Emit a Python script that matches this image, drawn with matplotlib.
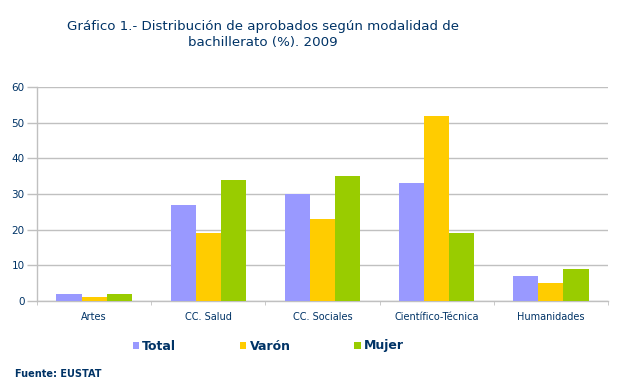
import matplotlib
matplotlib.use("Agg")
import matplotlib.pyplot as plt
import numpy as np
from matplotlib.patches import Patch

categories = ["Artes", "CC. Salud", "CC. Sociales", "Científico-Técnica", "Humanidades"]
series_names = ["Total", "Varón", "Mujer"]
total = [2, 27, 30, 33, 7]
varon = [1, 19, 23, 52, 5]
mujer = [2, 34, 35, 19, 9]
yticks = [0, 10, 20, 30, 40, 50, 60]

colors = ["#9999FF", "#FFCC00", "#99CC00"]
navy = "#003366"
grid = "#C0C0C0"

fig = plt.figure(figsize=(6.24, 3.91), dpi=100)
ax = fig.add_axes([37/624, 1-301/391, (608-37)/624, (301-87)/391])

x = np.arange(len(categories))
w = 0.22
for i, (vals, c) in enumerate(zip([total, varon, mujer], colors)):
    ax.bar(x + (i-1)*w, vals, width=w, color=c, zorder=3, linewidth=0)

ax.set_xlim(-0.5, len(categories)-0.5)
ax.set_ylim(0, 60)
ax.set_yticks(yticks)
ax.set_yticklabels([str(t) for t in yticks])
ax.yaxis.grid(True, color=grid, linewidth=1, zorder=0)
ax.set_axisbelow(True)
ax.set_xticks(x)
ax.set_xticklabels(categories)
ax.set_xticks(np.arange(-0.5, len(categories)), minor=True)
ax.tick_params(axis="x", which="major", length=0, pad=8, labelsize=7, labelcolor=navy)
ax.tick_params(axis="x", which="minor", length=3, color=grid, direction="out")
ax.tick_params(axis="y", length=7, color=grid, width=1, pad=2, labelsize=7.5, labelcolor=navy)
for s in ["top", "right"]:
    ax.spines[s].set_visible(False)
for s in ["left", "bottom"]:
    ax.spines[s].set_color(grid)
    ax.spines[s].set_linewidth(1)

fig.text(263/624, 1-20/391, "Gráfico 1.- Distribución de aprobados según modalidad de\nbachillerato (%). 2009",
         ha="center", va="top", fontsize=9.6, color=navy, linespacing=1.3)

handles = [Patch(facecolor=c, edgecolor="none") for c in colors]
leg = fig.legend(handles, series_names, loc="center left", bbox_to_anchor=(133/624, 1-346/391),
                 ncol=3, frameon=False, handlelength=0.5, handleheight=0.5, handletextpad=0.25,
                 columnspacing=5.1, borderpad=0, borderaxespad=0,
                 prop={"size": 9, "weight": "bold"})
for t in leg.get_texts():
    t.set_color(navy)

fig.text(15/624, 1-374/391, "Fuente: EUSTAT", ha="left", va="center", fontsize=7,
         fontweight="bold", color=navy)

fig.savefig("out.png", dpi=100)
